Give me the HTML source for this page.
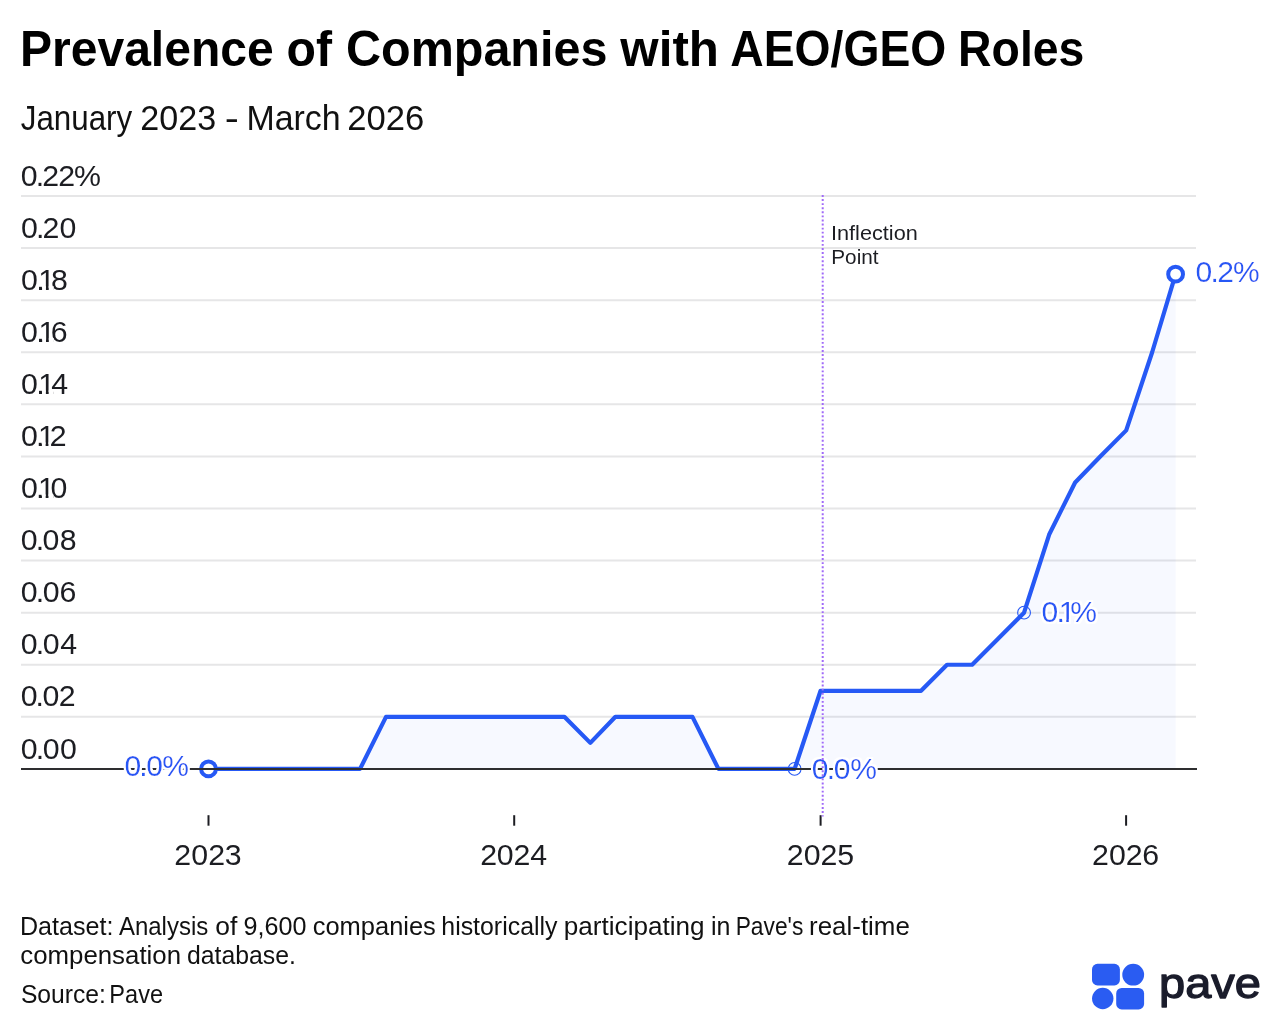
<!DOCTYPE html>
<html lang="en"><head><meta charset="utf-8"><title>Prevalence of Companies with AEO/GEO Roles</title>
<style>
html,body{margin:0;padding:0;background:#fff}
body{width:1280px;height:1030px;overflow:hidden;font-family:"Liberation Sans", sans-serif}
svg{display:block}
svg text{white-space:pre}
</style></head><body>
<svg width="1280" height="1030" viewBox="0 0 1280 1030" font-family='"Liberation Sans", sans-serif'>
<defs><clipPath id="k0"><path clip-rule="evenodd" d="M0 0H1280V1030H0Z M42.07 286.22H45.94V291.28H42.07Z M48.71 286.22H53.83V291.28H48.71Z"/></clipPath><clipPath id="k1"><path clip-rule="evenodd" d="M0 0H1280V1030H0Z M42.16 338.30H46.02V343.36H42.16Z M48.80 338.30H53.92V343.36H48.80Z"/></clipPath><clipPath id="k2"><path clip-rule="evenodd" d="M0 0H1280V1030H0Z M42.03 390.38H45.89V395.44H42.03Z M48.67 390.38H53.78V395.44H48.67Z"/></clipPath><clipPath id="k3"><path clip-rule="evenodd" d="M0 0H1280V1030H0Z M41.79 442.46H45.63V447.52H41.79Z M48.41 442.46H51.21V447.52H48.41Z"/></clipPath><clipPath id="k4"><path clip-rule="evenodd" d="M0 0H1280V1030H0Z M41.83 494.54H45.68V499.60H41.83Z M48.45 494.54H53.57V499.60H48.45Z"/></clipPath><clipPath id="k5"><path clip-rule="evenodd" d="M0 0H1280V1030H0Z M1062.31 618.86H1066.14V623.90H1062.31Z M1068.89 618.86H1073.95V623.90H1068.89Z"/></clipPath><filter id="halo" x="-10%" y="-25%" width="120%" height="150%"><feMorphology in="SourceAlpha" operator="dilate" radius="1.6" result="d"/><feGaussianBlur in="d" stdDeviation="0.35" result="b"/><feFlood flood-color="#fff"/><feComposite in2="b" operator="in" result="h"/><feMerge><feMergeNode in="h"/><feMergeNode in="SourceGraphic"/></feMerge></filter></defs>
<rect width="1280" height="1030" fill="#fff"/>
<g stroke="#e6e6e7" stroke-width="2">
<line x1="21" x2="1196" y1="196.02" y2="196.02"/>
<line x1="21" x2="1196" y1="248.10" y2="248.10"/>
<line x1="21" x2="1196" y1="300.18" y2="300.18"/>
<line x1="21" x2="1196" y1="352.26" y2="352.26"/>
<line x1="21" x2="1196" y1="404.34" y2="404.34"/>
<line x1="21" x2="1196" y1="456.42" y2="456.42"/>
<line x1="21" x2="1196" y1="508.50" y2="508.50"/>
<line x1="21" x2="1196" y1="560.58" y2="560.58"/>
<line x1="21" x2="1196" y1="612.66" y2="612.66"/>
<line x1="21" x2="1196" y1="664.74" y2="664.74"/>
<line x1="21" x2="1196" y1="716.82" y2="716.82"/>
</g>
<path d="M208.50,768.90 L234.46,768.90 L257.90,768.90 L283.86,768.90 L308.98,768.90 L334.93,768.90 L360.05,768.90 L386.01,716.82 L411.97,716.82 L437.09,716.82 L463.04,716.82 L488.16,716.82 L514.12,716.82 L540.08,716.82 L564.36,716.82 L590.32,742.86 L615.44,716.82 L641.39,716.82 L666.51,716.82 L692.47,716.82 L718.43,768.90 L743.55,768.90 L769.50,768.90 L794.62,768.90 L820.58,690.78 L846.54,690.78 L869.98,690.78 L895.94,690.78 L921.06,690.78 L947.01,664.74 L972.13,664.74 L998.09,638.70 L1024.05,612.66 L1049.17,534.54 L1075.12,482.46 L1100.24,456.42 L1126.20,430.38 L1152.16,352.26 L1175.60,274.14 L1175.60,768.90 L208.50,768.90 Z" fill="#2659f5" fill-opacity="0.035"/>
<circle cx="794.62" cy="768.90" r="6.4" fill="none" stroke="#2659f5" stroke-width="1.1"/>
<circle cx="1024.05" cy="612.66" r="6.4" fill="none" stroke="#2659f5" stroke-width="1.1"/>
<path d="M208.50,768.90 L234.46,768.90 L257.90,768.90 L283.86,768.90 L308.98,768.90 L334.93,768.90 L360.05,768.90 L386.01,716.82 L411.97,716.82 L437.09,716.82 L463.04,716.82 L488.16,716.82 L514.12,716.82 L540.08,716.82 L564.36,716.82 L590.32,742.86 L615.44,716.82 L641.39,716.82 L666.51,716.82 L692.47,716.82 L718.43,768.90 L743.55,768.90 L769.50,768.90 L794.62,768.90 L820.58,690.78 L846.54,690.78 L869.98,690.78 L895.94,690.78 L921.06,690.78 L947.01,664.74 L972.13,664.74 L998.09,638.70 L1024.05,612.66 L1049.17,534.54 L1075.12,482.46 L1100.24,456.42 L1126.20,430.38 L1152.16,352.26 L1175.60,274.14" fill="none" stroke="#2659f5" stroke-width="4.2" stroke-linejoin="round" stroke-linecap="butt"/>
<circle cx="208.50" cy="768.90" r="7.4" fill="#fff" stroke="#2659f5" stroke-width="4"/>
<circle cx="1175.60" cy="274.14" r="7.4" fill="#fff" stroke="#2659f5" stroke-width="4"/>
<line x1="21" x2="1197" y1="768.90" y2="768.90" stroke="#2e2e30" stroke-width="2"/>
<g stroke="#1c1d22" stroke-width="2">
<line x1="208.5" x2="208.5" y1="815.2" y2="825.7"/>
<line x1="514.2" x2="514.2" y1="815.2" y2="825.7"/>
<line x1="820.6" x2="820.6" y1="815.2" y2="825.7"/>
<line x1="1126.1" x2="1126.1" y1="815.2" y2="825.7"/>
</g>
<g class="t">
<text transform="translate(20.00 65.66) scale(0.9704 1)" fill="#000" style="font-size:49.5px;font-weight:bold">Prevalence</text>
<text transform="translate(286.49 65.66) scale(0.9736 1)" fill="#000" style="font-size:49.5px;font-weight:bold">of</text>
<text transform="translate(345.98 65.66) scale(0.9800 1)" fill="#000" style="font-size:49.5px;font-weight:bold">Companies</text>
<text transform="translate(620.37 65.66) scale(0.9963 1)" fill="#000" style="font-size:49.5px;font-weight:bold">with</text>
<text transform="translate(730.28 65.66) scale(0.9350 1)" fill="#000" style="font-size:49.5px;font-weight:bold">AEO/GEO</text>
<text transform="translate(958.10 65.66) scale(0.9368 1)" fill="#000" style="font-size:49.5px;font-weight:bold">Roles</text>
<text transform="translate(20.76 129.80) scale(0.9110 1)" fill="#111" style="font-size:34.4px">January</text>
<text transform="translate(140.30 129.80) scale(0.9909 1)" fill="#111" style="font-size:34.4px">2023</text>
<text transform="translate(224.68 129.80) scale(1.2312 1)" fill="#111" style="font-size:34.4px">-</text>
<text transform="translate(246.45 129.80) scale(0.9857 1)" fill="#111" style="font-size:34.4px">March</text>
<text transform="translate(347.13 129.80) scale(1.0065 1)" fill="#111" style="font-size:34.4px">2026</text>
<text x="20.87 35.83 42.25 58.33 73.90" y="185.62" fill="#1c1d22" style="font-size:30.3px">0.22%</text>
<text x="20.94 36.01 42.53 59.41" y="237.70" fill="#1c1d22" style="font-size:30.3px">0.20</text>
<text x="21.04 36.24 38.37 51.01" y="289.78" fill="#1c1d22" style="font-size:30.3px" clip-path="url(#k0)">0.18</text>
<text x="21.08 36.33 38.46 50.84" y="341.86" fill="#1c1d22" style="font-size:30.3px" clip-path="url(#k1)">0.16</text>
<text x="21.02 36.20 38.32 51.22" y="393.94" fill="#1c1d22" style="font-size:30.3px" clip-path="url(#k2)">0.14</text>
<text x="20.92 35.95 38.06 49.79" y="446.02" fill="#1c1d22" style="font-size:30.3px" clip-path="url(#k3)">0.12</text>
<text x="20.94 36.00 38.11 50.52" y="498.10" fill="#1c1d22" style="font-size:30.3px" clip-path="url(#k4)">0.10</text>
<text x="20.79 35.64 42.58 59.75" y="550.18" fill="#1c1d22" style="font-size:30.3px">0.08</text>
<text x="20.81 35.71 42.69 59.59" y="602.26" fill="#1c1d22" style="font-size:30.3px">0.06</text>
<text x="20.80 35.68 42.64 60.14" y="654.34" fill="#1c1d22" style="font-size:30.3px">0.04</text>
<text x="20.74 35.53 42.41 58.85" y="706.42" fill="#1c1d22" style="font-size:30.3px">0.02</text>
<text x="20.82 35.71 42.69 59.94" y="758.50" fill="#1c1d22" style="font-size:30.3px">0.00</text>
<text x="174.31 191.24 208.17 224.78" y="864.70" fill="#1c1d22" style="font-size:30.3px">2023</text>
<text x="480.18 496.80 513.42 530.32" y="864.70" fill="#1c1d22" style="font-size:30.3px">2024</text>
<text x="786.71 803.64 820.57 837.18" y="864.70" fill="#1c1d22" style="font-size:30.3px">2025</text>
<text x="1092.07 1108.89 1125.72 1142.19" y="864.70" fill="#1c1d22" style="font-size:30.3px">2026</text>
<text transform="translate(831.02 239.65) scale(1.0427 1)" fill="#1c1d22" style="font-size:20.8px">Inflection</text>
<text transform="translate(831.30 263.85) scale(0.9971 1)" fill="#1c1d22" style="font-size:20.8px">Point</text>
<g filter="url(#halo)"><text x="124.46 139.27 146.24 162.26" y="775.60" fill="#2659f5" style="font-size:30.0px">0.0%</text></g>
<g filter="url(#halo)"><text x="811.85 826.77 833.87 850.13" y="778.50" fill="#2659f5" style="font-size:30.0px">0.0%</text></g>
<g filter="url(#halo)"><text x="1041.46 1056.54 1058.64 1070.16" y="622.40" fill="#2659f5" style="font-size:30.0px" clip-path="url(#k5)">0.1%</text></g>
<g filter="url(#halo)"><text x="1195.61 1210.62 1217.16 1232.94" y="281.80" fill="#2659f5" style="font-size:30.0px">0.2%</text></g>
<text transform="translate(19.99 934.90) scale(1.0044 1)" fill="#111" style="font-size:25px">Dataset:</text>
<text transform="translate(118.90 934.90) scale(0.9611 1)" fill="#111" style="font-size:25px">Analysis</text>
<text transform="translate(215.19 934.90) scale(1.0576 1)" fill="#111" style="font-size:25px">of</text>
<text transform="translate(243.49 934.90) scale(1.0057 1)" fill="#111" style="font-size:25px">9,600</text>
<text transform="translate(312.73 934.90) scale(1.0189 1)" fill="#111" style="font-size:25px">companies</text>
<text transform="translate(441.31 934.90) scale(0.9957 1)" fill="#111" style="font-size:25px">historically</text>
<text transform="translate(563.83 934.90) scale(1.0448 1)" fill="#111" style="font-size:25px">participating</text>
<text transform="translate(710.90 934.90) scale(0.9997 1)" fill="#111" style="font-size:25px">in</text>
<text transform="translate(735.68 934.90) scale(0.9109 1)" fill="#111" style="font-size:25px">Pave's</text>
<text transform="translate(809.09 934.90) scale(1.0366 1)" fill="#111" style="font-size:25px">real-time</text>
<text transform="translate(20.22 963.80) scale(1.0340 1)" fill="#111" style="font-size:25px">compensation</text>
<text transform="translate(187.01 963.80) scale(0.9923 1)" fill="#111" style="font-size:25px">database.</text>
<text transform="translate(20.91 1002.90) scale(0.9872 1)" fill="#111" style="font-size:25px">Source:</text>
<text transform="translate(109.37 1002.90) scale(0.9419 1)" fill="#111" style="font-size:25px">Pave</text>
</g>
<line x1="822.7" x2="822.7" y1="195" y2="816.5" stroke="#a06af8" stroke-width="2" stroke-dasharray="1.9 2.18"/>
<g fill="#2a5cf2">
<rect x="1092" y="963.8" width="27.9" height="21.6" rx="5.5"/>
<circle cx="1133.2" cy="974.7" r="10.9"/>
<circle cx="1102.75" cy="998.5" r="10.7"/>
<rect x="1116.2" y="987.9" width="27.9" height="21.5" rx="5.5"/>
</g>
<text stroke="#1a1c2b" stroke-width="1.3" stroke-linejoin="round" transform="translate(1159.06 998.00) scale(1.0922 1)" fill="#1a1c2b" style="font-size:43px">pave</text>
</svg>
</body></html>
